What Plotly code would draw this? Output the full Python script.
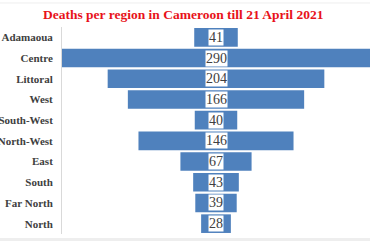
import plotly.graph_objects as go

regions = ["Adamaoua", "Centre", "Littoral", "West", "South-West",
           "North-West", "East", "South", "Far North", "North"]
deaths = [41, 290, 204, 166, 40, 146, 67, 43, 39, 28]
title_text = "Deaths per region in Cameroon till 21 April 2021"

bases = [-v / 2 for v in deaths]
SERIF = "Liberation Serif, Tinos, DejaVu Serif, Noto Serif, Times New Roman, serif"

fig = go.Figure()
fig.add_trace(go.Bar(
    y=regions, x=deaths, base=bases, orientation="h",
    marker=dict(color="#4F81BD", line=dict(width=0)),
    hoverinfo="skip",
))

for r, v in zip(regions, deaths):
    fig.add_annotation(
        x=0, y=r, xref="x", yref="y", text=str(v), showarrow=False,
        font=dict(family=SERIF, size=14, color="#404040"),
        bgcolor="white", borderpad=0,
    )

fig.update_layout(
    width=370, height=241,
    margin=dict(l=62, r=0, t=27, b=7, autoexpand=False),
    paper_bgcolor="white", plot_bgcolor="white",
    bargap=0.1, showlegend=False,
    title=dict(text="<b>" + title_text + "</b>", x=0.495, xanchor="center", y=0.94, yanchor="middle",
               xref="container",
               font=dict(family=SERIF, size=13.5, color="#E8121A")),
    xaxis=dict(range=[-145, 145], visible=False, fixedrange=True, automargin=False),
    yaxis=dict(autorange="reversed", showgrid=False, zeroline=False, automargin=False,
               showline=True, linecolor="#D9D9D9", linewidth=1,
               ticks="", ticklabelstandoff=6,
               tickfont=dict(family=SERIF, size=11, color="#404040", weight="bold")),
    shapes=[
        dict(type="rect", xref="paper", yref="paper", x0=-1, x1=1.1,
             y0=-0.04, y1=-0.0193, fillcolor="#EEEEEE", line=dict(width=0), layer="below"),
        dict(type="line", xref="paper", yref="paper", x0=-1, x1=1.1,
             y0=1.116, y1=1.116, line=dict(color="#EEEEEE", width=1)),
    ],
)

fig.write_html("out.html")
